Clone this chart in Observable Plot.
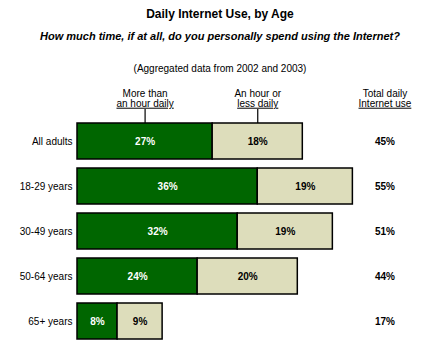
<!DOCTYPE html>
<html><head><meta charset="utf-8">
<script src="https://cdn.jsdelivr.net/npm/d3@7"></script>
<script src="https://cdn.jsdelivr.net/npm/@observablehq/plot@0.6"></script>
<style>
body{margin:0;background:#fff;font-family:"Liberation Sans",Arial,sans-serif;}
#chart{position:relative;width:440px;height:342px;overflow:hidden;}
.t{position:absolute;left:0;width:440px;text-align:center;white-space:nowrap;color:#000;}
#title{top:8px;font-size:12px;font-weight:bold;line-height:12px;}
#subtitle{top:31px;font-size:11px;font-weight:bold;font-style:italic;line-height:11px;}
#note{top:64px;font-size:10px;line-height:10px;}
#plot{position:absolute;left:0;top:80px;}
</style></head><body>
<div id="chart">
  <div class="t" id="title"></div>
  <div class="t" id="subtitle"></div>
  <div class="t" id="note"></div>
  <div id="plot"></div>
</div>
<script>
const titleText = "Daily Internet Use, by Age";
const subtitleText = "How much time, if at all, do you personally spend using the Internet?";
const noteText = "(Aggregated data from 2002 and 2003)";

const ages = ["All adults", "18-29 years", "30-49 years", "50-64 years", "65+ years"];
const moreThanHour = [27, 36, 32, 24, 8];
const hourOrLess = [18, 19, 19, 20, 9];
const totalDaily = [45, 55, 51, 44, 17];
const seriesNames = ["More than an hour daily", "An hour or less daily"];
const seriesColors = ["#006600", "#DDDDBB"];
const headerLine1 = ["More than", "An hour or", "Total daily"];
const headerLine2 = ["an hour daily", "less daily", "Internet use"];
const totalColumn = 61.4; // x position (in % units) of the totals column

document.getElementById("title").textContent = titleText;
document.getElementById("subtitle").textContent = subtitleText;
document.getElementById("note").textContent = noteText;

const rows = [];
ages.forEach((a, i) => {
  rows.push({age: a, type: seriesNames[0], value: moreThanHour[i]});
  rows.push({age: a, type: seriesNames[1], value: hourOrLess[i]});
});
const totals = ages.map((a, i) => ({age: a, total: totalDaily[i]}));
const headerX = [moreThanHour[0] / 2, moreThanHour[0] + hourOrLess[0] / 2, totalColumn];
const headers = headerX.map((x, i) => ({x, label: headerLine1[i] + "\n" + headerLine2[i]}));
const leaders = headerX.slice(0, 2);

const H = 262, MT = 39;
const labelOpts = {x: "value", y: "age", z: "type", text: d => d.value + "%", fontWeight: "bold", fontSize: 10};
const plot = Plot.plot({
  width: 440,
  height: H,
  marginTop: MT,
  marginBottom: 0,
  marginLeft: 77,
  marginRight: 0,
  style: {fontFamily: '"Liberation Sans", Arial, sans-serif', fontSize: "10px", color: "#000", background: "transparent"},
  x: {domain: [0, 72.5], axis: null},
  y: {domain: ages, paddingInner: 0.2, paddingOuter: 0.05, label: null},
  color: {domain: seriesNames, range: seriesColors},
  marks: [
    Plot.ruleX(leaders, {x: d => d, stroke: "#000", strokeWidth: 1.2, insetTop: -10, insetBottom: H - MT - 4}),
    Plot.barX(rows, {x: "value", y: "age", fill: "type", stroke: "#000", strokeWidth: 1.5}),
    Plot.text(rows, Plot.filter(d => d.type === seriesNames[0], Plot.stackX({...labelOpts, fill: "#fff"}))),
    Plot.text(rows, Plot.filter(d => d.type === seriesNames[1], Plot.stackX({...labelOpts, fill: "#000"}))),
    Plot.text(totals, {x: () => totalColumn, y: "age", text: d => d.total + "%", fontWeight: "bold", fontSize: 10, fill: "#000"}),
    Plot.text(headers, {x: "x", text: "label", frameAnchor: "top", lineAnchor: "middle", lineHeight: 1, dy: -21, fontSize: 10, fill: "#000"}),
    Plot.axisY({tickSize: 0, tickPadding: 5, fontSize: 10, label: null, fill: "#000"})
  ]
});
document.getElementById("plot").appendChild(plot);
d3.select(plot).selectAll("tspan")
  .filter(function() { return headerLine2.includes(this.textContent); })
  .style("text-decoration", "underline");
</script>
</body></html>
